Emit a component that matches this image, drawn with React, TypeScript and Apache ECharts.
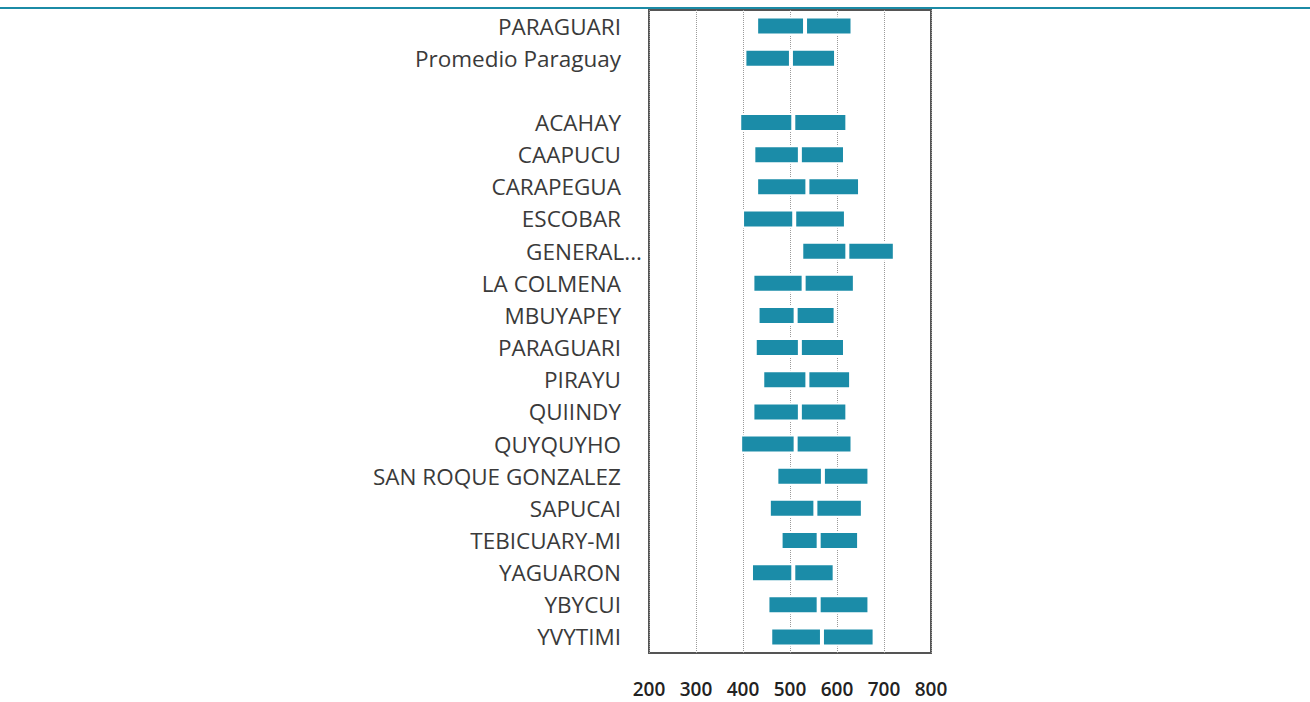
import React, { useEffect, useRef } from "react";
import * as echarts from "echarts";

const categories = [
  "PARAGUARI",
  "Promedio Paraguay",
  "",
  "ACAHAY",
  "CAAPUCU",
  "CARAPEGUA",
  "ESCOBAR",
  "GENERAL...",
  "LA COLMENA",
  "MBUYAPEY",
  "PARAGUARI",
  "PIRAYU",
  "QUIINDY",
  "QUYQUYHO",
  "SAN ROQUE GONZALEZ",
  "SAPUCAI",
  "TEBICUARY-MI",
  "YAGUARON",
  "YBYCUI",
  "YVYTIMI",
];

// lower bound, middle mark, upper bound of each bar
const lowValues = [428, 403, null, 392, 422, 428, 398, 524, 420, 431, 425, 441, 420, 394, 471, 455, 480, 417, 452, 458];
const midValues = [532, 502, null, 507, 521, 537, 509, 622, 529, 512, 521, 537, 521, 512, 570, 554, 561, 507, 561, 568];
const highValues = [633, 598, null, 622, 617, 649, 619, 723, 638, 597, 617, 630, 622, 633, 669, 655, 647, 595, 669, 680];

const xTicks = [200, 300, 400, 500, 600, 700, 800];

const BAR = "#1b8ca8";

export default function App() {
  const ref = useRef<HTMLDivElement>(null);
  useEffect(() => {
    document.body.style.margin = "0";
    const chart = echarts.init(ref.current!, null, { renderer: "svg" });
    const base = lowValues.map((v) => (v == null ? "-" : v));
    const seg1 = lowValues.map((v, i) => (v == null || midValues[i] == null ? "-" : (midValues[i] as number) - v));
    const seg2 = midValues.map((v, i) => (v == null || highValues[i] == null ? "-" : (highValues[i] as number) - v));
    const barStyle = { color: BAR, borderColor: "#ffffff", borderWidth: 2 };
    chart.setOption({
      animation: false,
      backgroundColor: "#ffffff",
      graphic: [
        {
          type: "rect",
          left: 0,
          top: 7,
          shape: { width: 1310, height: 2 },
          style: { fill: "#1b8ba6" },
          silent: true,
        },
      ],
      grid: {
        left: 649,
        right: 379,
        top: 10,
        bottom: 49,
        show: true,
        borderColor: "#555555",
        borderWidth: 2,
        backgroundColor: "transparent",
      },
      xAxis: {
        type: "value",
        min: xTicks[0],
        max: xTicks[xTicks.length - 1],
        interval: 100,
        axisLine: { show: false },
        axisTick: { show: false },
        splitLine: { show: true, lineStyle: { type: "dotted", color: "#9a9a9a", width: 1 } },
        axisLabel: {
          margin: 26,
          color: "#222222",
          fontFamily: "Open Sans",
          fontWeight: 600,
          fontSize: 19,
        },
      },
      yAxis: {
        type: "category",
        data: categories,
        inverse: true,
        axisLine: { show: false },
        axisTick: { show: false },
        splitLine: { show: false },
        axisLabel: {
          margin: 7,
          interval: 0,
          formatter: (v: string) => (v === "GENERAL..." ? `{g|${v}}` : `{n|${v}}`),
          rich: {
            n: { color: "#3a3a3a", fontFamily: "Open Sans", fontSize: 22.5, padding: [0, 21, 0, 0] },
            g: { color: "#3a3a3a", fontFamily: "Open Sans", fontSize: 22.5 },
          },
        },
      },
      series: [
        {
          type: "bar",
          stack: "s",
          data: base,
          barWidth: 19,
          itemStyle: { color: "transparent", borderWidth: 0 },
          silent: true,
        },
        { type: "bar", stack: "s", data: seg1, barWidth: 19, itemStyle: barStyle },
        { type: "bar", stack: "s", data: seg2, barWidth: 19, itemStyle: barStyle },
      ],
    });
    return () => chart.dispose();
  }, []);
  return <div ref={ref} style={{ width: 1310, height: 702 }} />;
}
